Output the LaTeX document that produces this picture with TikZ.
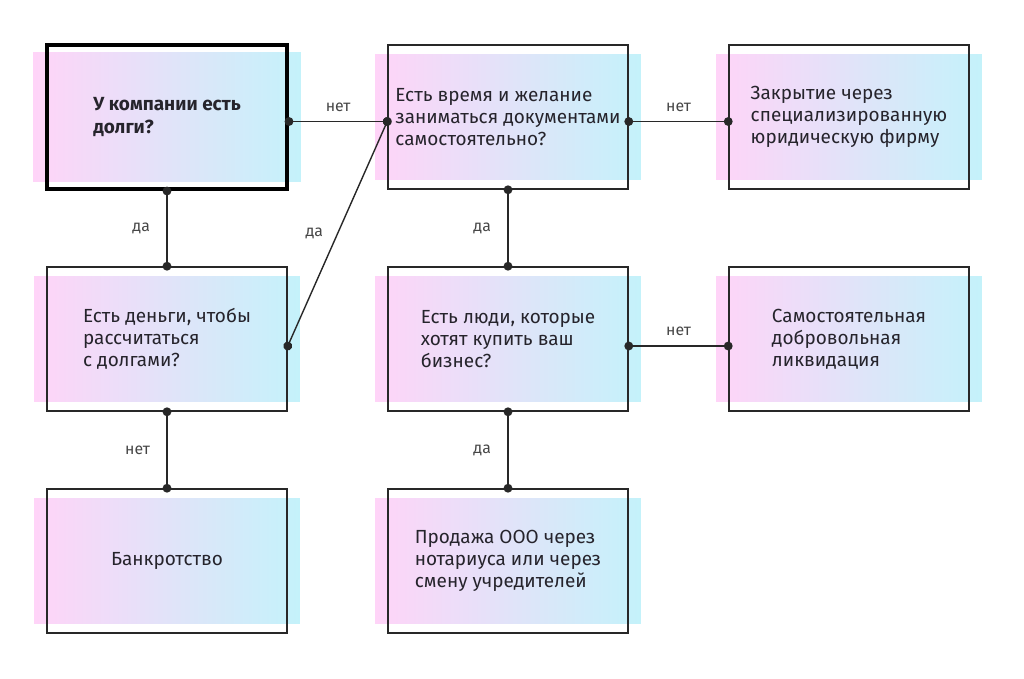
\documentclass[tikz,border=0pt]{standalone}
\usepackage{fontspec}
\setmainfont{Fira Sans}
\usetikzlibrary{arrows.meta,backgrounds}

\definecolor{boxpink}{RGB}{255,212,248}
\definecolor{boxlilac}{RGB}{238,230,251}
\definecolor{boxcyan}{RGB}{196,242,250}
\definecolor{lineclr}{RGB}{40,40,40}
\definecolor{textclr}{RGB}{38,36,44}
\definecolor{labelclr}{RGB}{70,70,70}

\begin{document}
\begin{tikzpicture}[x=0.02cm, y=-0.02cm,
      stepbox/.style={rectangle, draw=lineclr, line width=0.9pt, minimum width=4.8cm, minimum height=2.88cm, inner xsep=2pt, align=left, text=textclr, font=\fontsize{10.8}{12.6}\selectfont},
      startbox/.style={stepbox, draw=black, line width=2.3pt, font=\bfseries\fontsize{10.8}{12.6}\selectfont},
      link/.style={{Circle[length=5pt]}-{Circle[length=5pt]}, shorten <=-2.5pt, shorten >=-2.5pt, line width=0.8pt, draw=lineclr},
      answer/.style={text=labelclr, font=\fontsize{9}{10.5}\selectfont}
  ]
  \useasboundingbox (0,0) rectangle (1024,679);

  % Nodes (three columns, three rows)
  \node[startbox] (debts) at (167,117) {У компании есть\\долги?};
  \node[stepbox] (docs) at (508,117) {Есть время и желание\\заниматься документами\\самостоятельно?};
  \node[stepbox] (firm) at (849,117) {Закрытие через\\специализированную\\юридическую фирму};
  \node[stepbox] (money) at (167,339) {Есть деньги, чтобы\\рассчитаться\\с долгами?};
  \node[stepbox] (buyers) at (508,339) {Есть люди, которые\\хотят купить ваш\\бизнес?};
  \node[stepbox] (selfliq) at (849,339) {Самостоятельная\\добровольная\\ликвидация};
  \node[stepbox] (bankrupt) at (167,561) {Банкротство};
  \node[stepbox] (sale) at (508,561) {Продажа ООО через\\нотариуса или через\\смену учредителей};

  % Gradient fills behind the boxes
  \begin{scope}[on background layer]
    \foreach \n in {debts,docs,firm,money,buyers,selfliq,bankrupt,sale}
      \shade[left color=boxpink, middle color=boxlilac, right color=boxcyan]
        ([xshift=-0.24cm,yshift=0.2cm]\n.south west) rectangle ([xshift=0.24cm,yshift=-0.2cm]\n.north east);
  \end{scope}

  % Connectors
  \draw[link] ([yshift=-0.09cm]debts.east) -- node[answer, above=2pt] {нет} ([yshift=-0.09cm]docs.west);
  \draw[link] ([yshift=-0.09cm]docs.east) -- node[answer, above=2pt] {нет} ([yshift=-0.09cm]firm.west);
  \draw[link] (debts) -- node[answer, left=6pt] {да} (money);
  \draw[link] ([yshift=-0.14cm]money.east) -- node[answer, left=4.5pt] {да} ([yshift=-0.09cm]docs.west);
  \draw[link] (docs) -- node[answer, left=6pt] {да} (buyers);
  \draw[link] ([yshift=-0.14cm]buyers.east) -- node[answer, above=2pt] {нет} ([yshift=-0.14cm]selfliq.west);
  \draw[link] (money) -- node[answer, left=6pt] {нет} (bankrupt);
  \draw[link] (buyers) -- node[answer, left=6pt] {да} (sale);

\end{tikzpicture}
\end{document}
